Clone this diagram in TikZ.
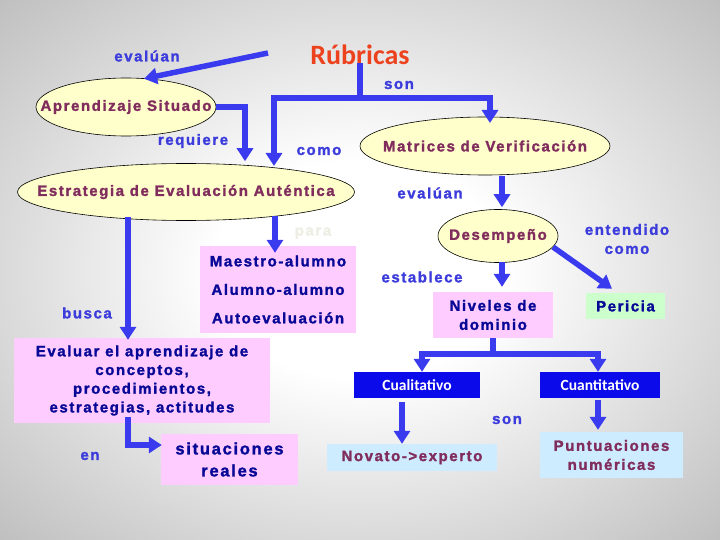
\documentclass[tikz,border=0pt]{standalone}
\usepackage{fontspec}
\setmainfont{Liberation Sans}
\newfontfamily\mainbold[LetterSpace=10.5,FakeBold=1.6]{Liberation Sans Bold}
\newfontfamily\calib{Carlito}
\usetikzlibrary{shapes.geometric,arrows.meta,calc}
\definecolor{arrblue}{RGB}{58,58,238}
\definecolor{labblue}{RGB}{60,60,220}
\definecolor{maroon}{RGB}{128,44,92}
\definecolor{navy}{RGB}{8,8,150}
\definecolor{ellfill}{RGB}{255,255,204}
\definecolor{pinkfill}{RGB}{255,204,255}
\definecolor{greenfill}{RGB}{204,255,204}
\definecolor{lbluefill}{RGB}{206,236,255}
\definecolor{boxblue}{RGB}{10,10,235}
\definecolor{rubred}{RGB}{236,66,30}
\definecolor{bgout}{RGB}{150,150,150}
\definecolor{bgmid}{RGB}{205,205,205}
\definecolor{paracol}{RGB}{238,238,228}
\pgfdeclareradialshading{bgshade}{\pgfpoint{0bp}{0bp}}{color(0bp)=(white);color(10bp)=(white);color(30bp)=(bgmid);color(52bp)=(bgout);color(100bp)=(bgout)}
\newcommand\zw[1]{\makebox[0pt]{#1}}
\begin{document}
\begin{tikzpicture}[x=1pt,y=-1pt,
  lab/.style={font=\mainbold\fontsize{15}{19}\selectfont,text=labblue,inner sep=0pt,align=center},
  ell/.style={ellipse,draw=black,line width=0.6pt,fill=ellfill,inner sep=0pt,
    font=\mainbold\fontsize{15}{19}\selectfont,text=maroon},
  rbox/.style={rectangle,inner sep=0pt,align=center,font=\mainbold\fontsize{15}{19}\selectfont},
  line/.style={draw=arrblue,line width=5.5pt},
  arr/.style={draw=arrblue,line width=5.5pt,-{Triangle[width=16pt,length=13pt]}}]
\useasboundingbox (0,0) rectangle (720,540);
\shade[shading=bgshade] (0,0) rectangle (720,540);

% title
\node[font=\calib\bfseries\fontsize{28}{32}\selectfont,text=rubred,inner sep=0pt] (rub) at (360,55) {Rúbricas};

% ellipses
\node[ell,minimum width=180pt,minimum height=58pt] (apr) at (126,107) {\zw{Aprendizaje Situado}};
\node[ell,minimum width=250pt,minimum height=58pt] (mat) at (485,146) {\zw{Matrices de Verificación}};
\node[ell,minimum width=337pt,minimum height=57pt] (estr) at (186,192) {\zw{Estrategia de Evaluación Auténtica}};
\node[ell,minimum width=120pt,minimum height=53pt] (des) at (498,236) {\zw{\raisebox{-2pt}{Desempeño}}};

% boxes
\node[rbox,fill=pinkfill,text=navy,minimum width=156pt,minimum height=87pt,
  font=\mainbold\fontsize{15}{28.5}\selectfont] (mae) at (278,289.5)
  {Maestro-alumno\\Alumno-alumno\\Autoevaluación};
\node[rbox,fill=pinkfill,text=navy,minimum width=256pt,minimum height=85pt,
  font=\mainbold\fontsize{15}{18.7}\selectfont] (ev) at (142,380.5)
  {Evaluar el aprendizaje de\\conceptos,\\procedimientos,\\estrategias, actitudes};
\node[rbox,fill=pinkfill,text=navy,minimum width=137pt,minimum height=51pt,
  font=\mainbold\fontsize{16.5}{22}\selectfont] (sit) at (229.5,459.5) {situaciones\\reales};
\node[rbox,fill=pinkfill,text=navy,minimum width=120pt,minimum height=46pt] (niv) at (493,315) {Niveles de\\dominio};
\node[rbox,fill=greenfill,text=navy,minimum width=79pt,minimum height=26pt] (per) at (625.5,306) {Pericia};
\node[rbox,fill=boxblue,text=white,minimum width=126pt,minimum height=26pt,
  font=\calib\bfseries\fontsize{15.5}{18}\selectfont] (cual) at (417,385) {Cualitativo};
\node[rbox,fill=boxblue,text=white,minimum width=120pt,minimum height=26pt,
  font=\calib\bfseries\fontsize{15.5}{18}\selectfont] (cuan) at (600,385) {Cuantitativo};
\node[rbox,fill=lbluefill,text=maroon,minimum width=170pt,minimum height=27pt] (nov) at (412,457.5) {Novato->experto};
\node[rbox,fill=lbluefill,text=maroon,minimum width=143pt,minimum height=46pt] (pun) at (611.5,455) {Puntuaciones\\numéricas};

% labels
\node[lab] (l1) at (147,56) {evalúan};
\node[lab] (l2) at (399,85) {son};
\node[lab] (l3) at (193,141) {requiere};
\node[lab] (l4) at (319,151) {como};
\node[lab] (l5) at (430,193) {evalúan};
\node[lab,text=paracol] (l6) at (313,233) {para};
\node[lab] (l7) at (627,239) {entendido\\como};
\node[lab] (l8) at (87,313) {busca};
\node[lab] (l9) at (422,277) {establece};
\node[lab] (l10) at (507,420) {son};
\node[lab] (l11) at (90,456) {en};

% connectors
\coordinate (s1) at (268,53);
\draw[arr] (s1) -- ($(apr.north)+(18,1)$);
\coordinate (jL) at (274,98);
\coordinate (jR) at (490,98);
\draw[arr] ($(rub.south)+(0,-2)$) |- (jL) -- ($(jL)+(0,68)$);
\draw[arr] ($(rub.south)+(0,-2)$) |- (jR) -- ($(jR)+(0,25)$);
\draw[arr] (apr.east) -| ($(estr.north)+(59,-2)$);
\draw[arr] ($(estr.center)+(-58,25)$) -- ($(ev.north)+(-14,2)$);
\draw[arr] ($(estr.center)+(89,24)$) -- ($(mae.north)+(-3,7)$);
\draw[arr] ($(ev.south)+(-14,-6)$) |- ($(sit.west)+(1,-14.5)$);
\draw[arr] ($(mat.south)+(17,1)$) -- ($(des.north)+(4,-2)$);
\draw[arr] ($(des.south)+(4,-1)$) -- ($(niv.north)+(9,-5)$);
\draw[arr] ($(des.center)+(55,11)$) -- ($(per.north)+(-13.5,-4)$);
\coordinate (kL) at (422,354);
\coordinate (kR) at (598,354);
\draw[arr] (niv.south) |- (kL) -- (cual.north -| kL);
\draw[arr] (niv.south) |- (kR) -- (cuan.north -| kR);
\draw[arr] ($(cual.south)+(-15,4)$) -- ($(nov.north)+(-10,0)$);
\draw[arr] ($(cuan.south)+(-2,2)$) -- ($(pun.north)+(-13.5,-2)$);
\end{tikzpicture}
\end{document}
